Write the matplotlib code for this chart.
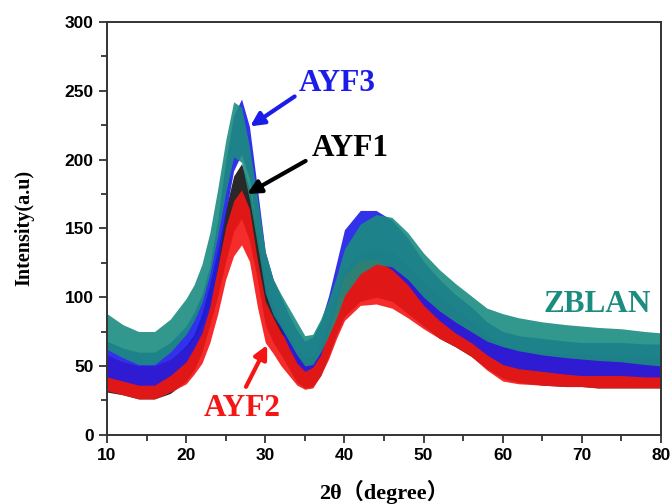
import matplotlib
matplotlib.use("Agg")
import matplotlib.pyplot as plt
import numpy as np

# 2-theta sample positions (degrees) at which envelope values were read
two_theta = [10, 12, 14, 16, 18, 20, 21, 22, 23, 24, 25, 26, 27, 28, 29, 30, 31, 32,
             33, 34, 35, 36, 37, 38, 39, 40, 42, 44, 46, 48, 50, 52, 54, 56, 58, 60,
             62, 65, 68, 70, 72, 75, 78, 80]

# centre intensity of each noisy trace
ayf1 = [44, 41, 38, 38, 42, 52, 60, 74, 95, 118, 145, 168, 177, 160, 130, 95, 80, 70,
        60, 50, 45, 46, 55, 70, 88, 103, 115, 118, 115, 105, 95, 85, 78, 70, 60, 53,
        50, 48, 47, 47, 46, 46, 46, 46]
ayf2 = [45, 41, 38, 38, 43, 50, 57, 66, 82, 105, 132, 150, 158, 145, 110, 82, 72, 62,
        55, 48, 44, 45, 55, 68, 85, 100, 112, 113, 110, 102, 93, 85, 78, 70, 59, 51,
        49, 48, 47, 47, 46, 46, 46, 46]
ayf3 = [55, 51, 48, 48, 55, 66, 76, 88, 108, 140, 180, 212, 224, 205, 162, 118, 100, 88,
        75, 64, 57, 60, 70, 88, 110, 132, 145, 145, 138, 126, 110, 98, 88, 80, 70, 63,
        60, 58, 56, 55, 55, 55, 54, 54]
zblan = [75, 68, 63, 63, 72, 86, 96, 110, 132, 162, 195, 222, 218, 190, 155, 118, 100, 90,
         80, 70, 61, 62, 72, 85, 100, 118, 135, 142, 140, 130, 116, 105, 96, 88, 80, 76,
         73, 70, 68, 67, 66, 65, 63, 62]
# half-height of the noise band
spread = [13, 12, 12, 12, 12, 13, 13, 14, 15, 17, 19, 20, 20, 19, 17, 15, 13, 12,
          12, 12, 11, 11, 12, 13, 15, 17, 18, 18, 18, 17, 16, 15, 14, 13, 12, 12,
          12, 12, 12, 12, 12, 12, 12, 12]

x_ticks = [10, 20, 30, 40, 50, 60, 70, 80]
y_ticks = [0, 50, 100, 150, 200, 250, 300]

fig = plt.figure(figsize=(6.72, 5.04), dpi=100)
ax = fig.add_axes([107/672, 1-434.7/504, (661-107)/672, (434.7-22)/504])

series = [(ayf1, "#111111"), (ayf2, "#f51515"), (ayf3, "#1c1ce8"), (zblan, "#1b8c80")]
x = np.array(two_theta)
s = np.array(spread)
for vals, col in series:
    v = np.array(vals)
    ax.fill_between(x, v - s, v + s, color=col, alpha=0.9, linewidth=0)

ax.set_xlim(10, 80)
ax.set_ylim(0, 300)
ax.set_xticks(x_ticks)
ax.set_yticks(y_ticks)
ax.set_xticks(np.arange(15, 80, 10), minor=True)
ax.set_yticks(np.arange(25, 300, 50), minor=True)
ax.tick_params(which="both", direction="out", top=False, right=False, width=1.3, color="#333333")
ax.tick_params(which="major", length=6)
ax.tick_params(which="minor", length=4)
for lab in ax.get_xticklabels() + ax.get_yticklabels():
    lab.set_family("Liberation Sans")
    lab.set_fontweight("bold")
    lab.set_fontsize(12.5)
for sp in ax.spines.values():
    sp.set_linewidth(1.4)
    sp.set_color("#333333")

ax.set_ylabel("Intensity(a.u)", family="Liberation Serif", fontweight="bold", fontsize=14.5, labelpad=22)
ax.set_xlabel("2θ（degree）", family=["Liberation Serif", "Noto Sans CJK SC"], fontweight="bold",
              fontsize=16, labelpad=12)

tf = dict(family="Liberation Serif", fontweight="bold", fontsize=22.5)
ax.text(34.2, 255.5, "AYF3", color="#1c1ce8", va="center", ha="left", **tf)
ax.annotate("", xy=(27.8, 223), xytext=(34.0, 247),
            arrowprops=dict(arrowstyle="-|>,head_length=0.8,head_width=0.4", color="#1c1ce8", lw=3))
ax.text(35.9, 208, "AYF1", color="black", va="center", ha="left", **tf)
ax.annotate("", xy=(27.4, 174), xytext=(35.4, 200),
            arrowprops=dict(arrowstyle="-|>,head_length=0.8,head_width=0.4", color="black", lw=3))
ax.text(27.1, 19, "AYF2", color="#f51515", va="center", ha="center", **tf)
ax.annotate("", xy=(30.4, 67), xytext=(27.4, 33),
            arrowprops=dict(arrowstyle="-|>,head_length=0.8,head_width=0.4", color="#f51515", lw=3))
ax.text(65.1, 94.5, "ZBLAN", color="#1b8c80", va="center", ha="left", **tf)

fig.savefig("out.png", dpi=100)
